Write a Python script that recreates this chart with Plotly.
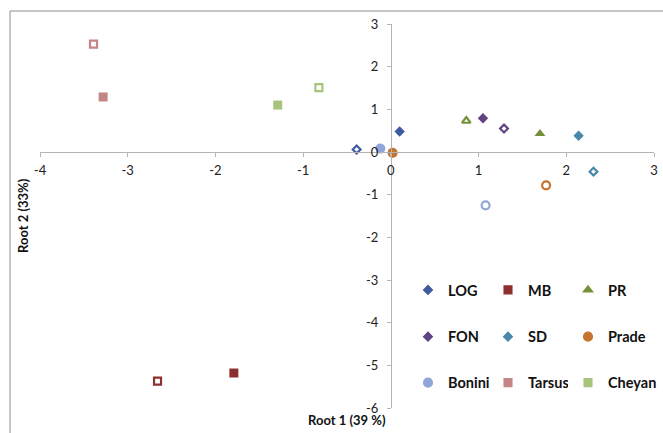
import plotly.graph_objects as go

# ---- data: each group has a filled point (first) and open point (second)
groups = ["LOG", "MB", "PR", "FON", "SD", "Prade", "Bonini", "Tarsus", "Cheyan"]
root1 = {
    "LOG": [0.10, -0.39],
    "MB": [-1.79, -2.66],
    "PR": [1.70, 0.86],
    "FON": [1.05, 1.29],
    "SD": [2.14, 2.31],
    "Prade": [0.02, 1.77],
    "Bonini": [-0.12, 1.08],
    "Tarsus": [-3.28, -3.39],
    "Cheyan": [-1.29, -0.82],
}
root2 = {
    "LOG": [0.48, 0.06],
    "MB": [-5.18, -5.37],
    "PR": [0.43, 0.73],
    "FON": [0.79, 0.55],
    "SD": [0.38, -0.46],
    "Prade": [-0.02, -0.78],
    "Bonini": [0.08, -1.25],
    "Tarsus": [1.29, 2.53],
    "Cheyan": [1.10, 1.51],
}
symbols = {
    "LOG": "diamond", "MB": "square", "PR": "triangle-up",
    "FON": "diamond", "SD": "diamond", "Prade": "circle",
    "Bonini": "circle", "Tarsus": "square", "Cheyan": "square",
}
colors = {
    "LOG": "#3F5AA0", "MB": "#8E2F2F", "PR": "#74913A",
    "FON": "#5E4482", "SD": "#4A88A8", "Prade": "#C4742C",
    "Bonini": "#91A6D8", "Tarsus": "#C38585", "Cheyan": "#A7C47D",
}
sizes = {
    "LOG": 8, "MB": 9, "PR": 9.5, "FON": 8, "SD": 8, "Prade": 10,
    "Bonini": 10, "Tarsus": 9, "Cheyan": 9,
}
# legend layout: rows (legend, legend2, legend3); last entry of last row in its own legend
legend_of = {
    "LOG": "legend", "MB": "legend", "PR": "legend",
    "FON": "legend2", "SD": "legend2", "Prade": "legend2",
    "Bonini": "legend3", "Tarsus": "legend3", "Cheyan": "legend4",
}
x_ticks = [-4, -3, -2, -1, 0, 1, 2, 3]
y_ticks = [-6, -5, -4, -3, -2, -1, 0, 1, 2, 3]

W, H = 663, 433
ML, MR, MT, MB_ = 40, 9, 24, 25
PW, PH = W - ML - MR, H - MT - MB_

def px2paper_x(px):
    return (px - ML) / PW

def px2paper_y(py):
    return (H - MB_ - py) / PH

fig = go.Figure()
for g in groups:
    s = symbols[g]
    sz = sizes[g]
    fig.add_trace(go.Scatter(
        x=root1[g], y=root2[g], mode="markers", name=g,
        legend=legend_of[g],
        marker=dict(
            symbol=[s, s + "-open"],
            size=[sz, sz - 2],
            color=colors[g],
            opacity=1,
            line=dict(color=colors[g], width=[0, 2.2]),
        ),
        hoverinfo="x+y+name",
    ))

axis_font = dict(family="Lato, Liberation Sans, sans-serif", size=13, color="#222222")
fig.update_layout(
    width=W, height=H,
    margin=dict(l=ML, r=MR, t=MT, b=MB_, pad=0, autoexpand=False),
    paper_bgcolor="white", plot_bgcolor="white",
    xaxis=dict(
        range=[-4, 3], tickvals=x_ticks, ticktext=[str(v) for v in x_ticks],
        showgrid=False, zeroline=False, showline=True, linecolor="#B4B4B4", linewidth=1,
        ticks="outside", ticklen=4, tickcolor="#B4B4B4",
        anchor="free", position=6 / 9, tickfont=axis_font, ticklabelstandoff=2,
    ),
    yaxis=dict(
        range=[-6, 3], tickvals=y_ticks, ticktext=[str(v) for v in y_ticks],
        showgrid=False, zeroline=False, showline=True, linecolor="#B4B4B4", linewidth=1,
        ticks="outside", ticklen=4, tickcolor="#B4B4B4",
        anchor="free", position=4 / 7, tickfont=axis_font, ticklabelstandoff=6,
    ),
    showlegend=True,
)

leg_font = dict(family="Lato, Liberation Sans, sans-serif", size=14.5, color="#111111", weight="bold")
for key, px, py, ew in [("legend", 408, 290, 35), ("legend2", 408, 336.7, 35),
                        ("legend3", 408, 382.7, 35), ("legend4", 568, 382.7, None)]:
    cfg = dict(
        orientation="h", x=px2paper_x(px), xanchor="left",
        y=px2paper_y(py), yanchor="middle",
        font=leg_font, bgcolor="rgba(0,0,0,0)", borderwidth=0,
        itemclick=False, itemdoubleclick=False,
    )
    if ew:
        cfg.update(entrywidth=ew, entrywidthmode="pixels")
    fig.update_layout({key: cfg})

title_font = dict(family="Lato, Liberation Sans, sans-serif", size=13, color="#111111", weight="bold")
fig.add_annotation(text="Root 1 (39 %)", xref="paper", yref="paper",
                   x=0.5, y=px2paper_y(420), xanchor="center", yanchor="middle",
                   showarrow=False, font=title_font)
fig.add_annotation(text="Root 2 (33%)", xref="paper", yref="paper",
                   x=px2paper_x(23), y=0.5, xanchor="center", yanchor="middle",
                   textangle=-90, showarrow=False, font=title_font)

# outer chart frame (partially cut off on right and bottom)
fig.add_shape(type="rect", xref="paper", yref="paper",
              x0=px2paper_x(10), x1=px2paper_x(680),
              y0=px2paper_y(450), y1=px2paper_y(11),
              line=dict(color="#8C8C8C", width=1), layer="below")

fig.write_html("out.html", config={"displayModeBar": False},
               post_script="document.body.style.margin='0';document.body.style.overflow='hidden';")
